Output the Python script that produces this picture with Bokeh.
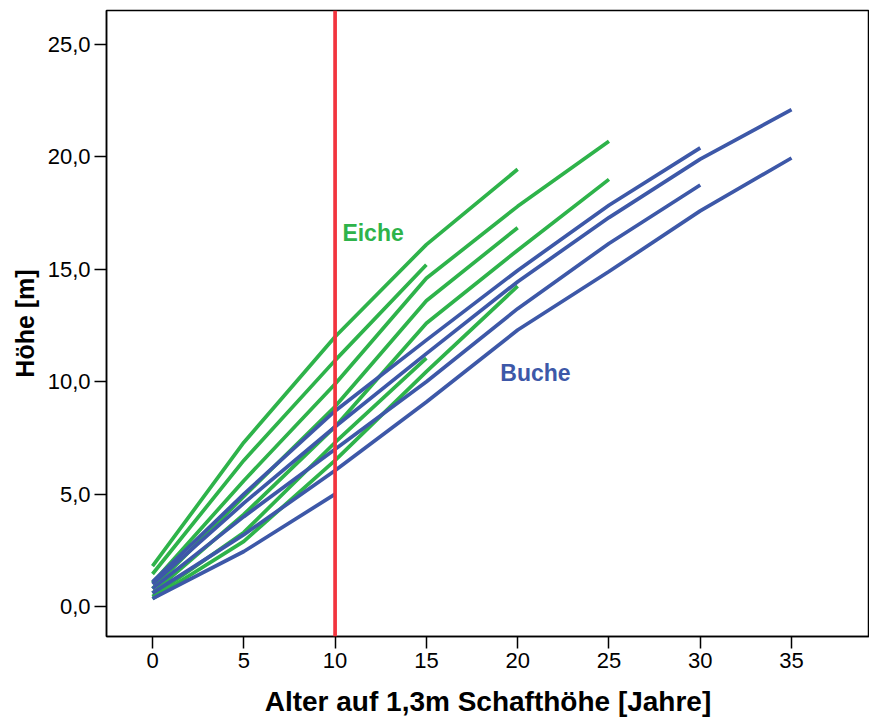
from bokeh.plotting import figure
from bokeh.models import Range1d, Span, FixedTicker, CustomJSTickFormatter
from bokeh.core.properties import value
from bokeh.embed import file_html
from bokeh.resources import INLINE

# Eiche (oak) series: age at 1.3 m [years] vs. height [m]
eiche_x = [
    [0, 5, 10, 15, 20],
    [0, 5, 10, 15],
    [0, 5, 10, 15, 20, 25],
    [0, 5, 10, 15, 20],
    [0, 5, 10, 15, 20, 25],
    [0, 5, 10, 15],
    [0, 5, 10, 15, 20],
]
eiche_y = [
    [1.80, 7.30, 12.00, 16.10, 19.45],
    [1.45, 6.50, 10.95, 15.20],
    [1.05, 5.60, 9.90, 14.60, 17.80, 20.70],
    [0.80, 4.90, 8.90, 13.60, 16.85],
    [0.60, 4.10, 8.00, 12.60, 15.85, 19.00],
    [0.45, 3.30, 7.30, 11.05],
    [0.35, 2.90, 6.50, 10.45, 14.25],
]

# Buche (beech) series
buche_x = [
    [0, 5, 10, 15, 20, 25, 30],
    [0, 5, 10, 15, 20, 25, 30, 35],
    [0, 5, 10, 15, 20, 25, 30],
    [0, 5, 10, 15, 20, 25, 30, 35],
    [0, 5, 10],
]
buche_y = [
    [1.10, 5.00, 8.70, 11.85, 14.95, 17.85, 20.40],
    [1.00, 4.60, 8.00, 11.25, 14.45, 17.30, 19.90, 22.10],
    [0.80, 4.00, 7.00, 10.00, 13.25, 16.15, 18.75],
    [0.60, 3.20, 6.05, 9.10, 12.30, 14.90, 17.60, 19.95],
    [0.35, 2.45, 5.00],
]

x_ticks = [0, 5, 10, 15, 20, 25, 30, 35]
y_ticks = [0, 5, 10, 15, 20, 25]
marker_age = 10

GREEN = "#2eb34a"
BLUE = "#3d58a8"
RED = "#f2343e"
FONT = "Liberation Sans"

p = figure(width=869, height=720, output_backend="svg", toolbar_location=None,
           x_range=Range1d(-2.52, 39.27), y_range=Range1d(-1.33, 26.51),
           min_border_left=106, min_border_right=0, min_border_top=10,
           min_border_bottom=84)
p.grid.visible = False
p.background_fill_color = "white"
p.border_fill_color = "white"
p.outline_line_color = "black"
p.outline_line_width = 1.5

for xs, ys in zip(eiche_x, eiche_y):
    p.line(xs, ys, line_color=GREEN, line_width=3.7)
for xs, ys in zip(buche_x, buche_y):
    p.line(xs, ys, line_color=BLUE, line_width=3.7)

p.add_layout(Span(location=marker_age, dimension="height", line_color=RED, line_width=3.7))

p.text(x=[10.4], y=[16.6], text=["Eiche"], text_color=GREEN, text_font=value(FONT),
       text_font_style="bold", text_font_size="23px", text_baseline="middle")
p.text(x=[19.05], y=[10.4], text=["Buche"], text_color=BLUE, text_font=value(FONT),
       text_font_style="bold", text_font_size="23px", text_baseline="middle")

p.xaxis.ticker = FixedTicker(ticks=x_ticks)
p.yaxis.ticker = FixedTicker(ticks=y_ticks)
p.yaxis.formatter = CustomJSTickFormatter(code="return tick.toFixed(1).replace('.', ',');")
p.xaxis.minor_tick_line_color = None
p.yaxis.minor_tick_line_color = None
for ax in (p.xaxis, p.yaxis):
    ax.axis_line_color = "black"
    ax.axis_line_width = 1.5
    ax.major_tick_line_color = "black"
    ax.major_tick_line_width = 1.5
    ax.major_tick_in = 0
    ax.major_tick_out = 12
    ax.major_label_text_font = FONT
    ax.major_label_text_font_size = "22px"
    ax.major_label_text_color = "black"
    ax.major_label_standoff = 4
    ax.axis_label_text_font = FONT
    ax.axis_label_text_font_style = "bold"
    ax.axis_label_text_color = "black"

p.xaxis.axis_label = "Alter auf 1,3m Schafthöhe [Jahre]"
p.yaxis.axis_label = "Höhe [m]"
p.xaxis.axis_label_text_font_size = "28px"
p.yaxis.axis_label_text_font_size = "25px"
p.xaxis.axis_label_standoff = 15
p.yaxis.axis_label_standoff = 6

open("out.html", "w").write(file_html(p, INLINE))
